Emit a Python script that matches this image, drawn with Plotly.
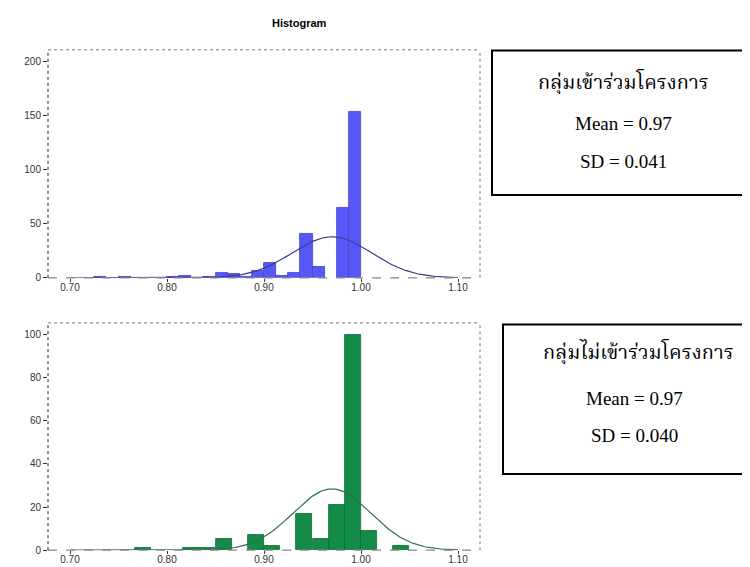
import plotly.graph_objects as go
import math

# ---------------- data ----------------
top_bin_width = 0.0125
top_bin_starts = [0.725, 0.75, 0.80, 0.8125, 0.8375, 0.85, 0.8625, 0.875, 0.8875,
                  0.90, 0.9125, 0.925, 0.9375, 0.95, 0.975, 0.9875]
top_counts = [1, 1, 1, 2, 1, 5, 4, 1, 6, 14, 2, 5, 41, 10, 65, 153]
top_mean, top_sd = 0.97, 0.041
top_label = "กลุ่มเข้าร่วมโครงการ"

bot_bin_width = 1 / 60
bot_bin_starts = [0.7667, 0.8167, 0.8333, 0.85, 0.8833, 0.90, 0.9333, 0.95,
                  0.9667, 0.9833, 1.0, 1.0333]
bot_counts = [1, 1, 1, 5, 7, 2, 17, 5, 21, 100, 9, 2]
bot_mean, bot_sd = 0.97, 0.040
bot_label = "กลุ่มไม่เข้าร่วมโครงการ"

x_ticks = [0.70, 0.80, 0.90, 1.00, 1.10]
top_y_ticks = [0, 50, 100, 150, 200]
bot_y_ticks = [0, 20, 40, 60, 80, 100]

W, H = 750, 567


def px(x):
    return x / W


def py(y):
    return 1 - y / H


def normal_curve(mean, sd, n, width, lo=0.70, hi=1.10, steps=200):
    xs, ys = [], []
    for i in range(steps + 1):
        x = lo + (hi - lo) * i / steps
        xs.append(x)
        ys.append(n * width / (sd * math.sqrt(2 * math.pi)) *
                  math.exp(-0.5 * ((x - mean) / sd) ** 2))
    return xs, ys


fig = go.Figure()

# top histogram
fig.add_trace(go.Bar(
    x=[s + top_bin_width / 2 for s in top_bin_starts], y=top_counts,
    width=[top_bin_width] * len(top_counts),
    marker=dict(color="#5858f8", line=dict(color="#4343c8", width=0.8)),
    xaxis="x", yaxis="y", showlegend=False))
cx, cy = normal_curve(top_mean, top_sd, sum(top_counts), top_bin_width)
fig.add_trace(go.Scatter(x=cx, y=cy, mode="lines",
                         line=dict(color="#3a3a8c", width=1.2),
                         xaxis="x", yaxis="y", showlegend=False))

# bottom histogram
fig.add_trace(go.Bar(
    x=[s + bot_bin_width / 2 for s in bot_bin_starts], y=bot_counts,
    width=[bot_bin_width] * len(bot_counts),
    marker=dict(color="#128c46", line=dict(color="#0d6a35", width=0.8)),
    xaxis="x2", yaxis="y2", showlegend=False))
cx2, cy2 = normal_curve(bot_mean, bot_sd, sum(bot_counts), bot_bin_width)
fig.add_trace(go.Scatter(x=cx2, y=cy2, mode="lines",
                         line=dict(color="#2f6e4f", width=1.2),
                         xaxis="x2", yaxis="y2", showlegend=False))

x_range = [0.7 + (40 - 62) / 970, 0.7 + (472 - 62) / 970]
x_dom = [px(40), px(472)]
tickfont = dict(family="Arial, Liberation Sans, sans-serif", size=10, color="#333333")

common_x = dict(range=x_range, domain=x_dom, tickvals=x_ticks,
                ticktext=[f"{v:.2f}" for v in x_ticks], ticks="outside",
                ticklen=3, tickcolor="#333333", tickfont=tickfont,
                ticklabelstandoff=-3,
                showgrid=False, zeroline=False, showline=False, fixedrange=True)
common_y = dict(ticks="outside", ticklen=4, tickcolor="#333333", tickfont=tickfont,
                showgrid=False, zeroline=False, showline=False, fixedrange=True)

fig.update_layout(
    width=W, height=H,
    margin=dict(l=0, r=0, t=0, b=0),
    paper_bgcolor="white", plot_bgcolor="white",
    bargap=0,
    xaxis=dict(anchor="y", **common_x),
    yaxis=dict(anchor="x", domain=[py(272.7), py(42.3)], range=[0, 210.7],
               tickvals=top_y_ticks, **common_y),
    xaxis2=dict(anchor="y2", **common_x),
    yaxis2=dict(anchor="x2", domain=[py(548), py(318.3)], range=[0, 105.4],
                tickvals=bot_y_ticks, **common_y),
)

shapes = []
for xa, ya in (("x", "y"), ("x2", "y2")):
    xr, yr = f"{xa} domain", f"{ya} domain"
    # top and right dotted frame
    shapes.append(dict(type="line", xref=xr, yref=yr, x0=0, x1=1, y0=1, y1=1,
                       line=dict(color="#777777", width=1, dash="dot")))
    shapes.append(dict(type="line", xref=xr, yref=yr, x0=1, x1=1, y0=0, y1=1,
                       line=dict(color="#777777", width=1, dash="dot")))
    # bottom axis (gray dashed)
    shapes.append(dict(type="line", xref=xr, yref=yr, x0=0, x1=1, y0=0, y1=0,
                       line=dict(color="#888888", width=1.2, dash="dash"), layer="above"))
    # left axis (dark dotted)
    shapes.append(dict(type="line", xref=xr, yref=yr, x0=0, x1=0, y0=0, y1=1,
                       line=dict(color="#222222", width=1, dash="dot")))

# text boxes
shapes.append(dict(type="rect", xref="paper", yref="paper",
                   x0=px(484), x1=px(746), y0=py(189), y1=py(43),
                   line=dict(color="black", width=2)))
shapes.append(dict(type="rect", xref="paper", yref="paper",
                   x0=px(495), x1=px(760), y0=py(471), y1=py(320),
                   line=dict(color="black", width=2)))

thai_font = dict(family="Noto Serif Thai, Noto Sans Thai, Tahoma, Liberation Serif, serif",
                 size=20, color="black")
serif_font = dict(family="Liberation Serif, Times New Roman, serif", size=19, color="black")

annotations = [
    dict(text="<b>Histogram</b>", xref="paper", yref="paper", x=px(262), y=py(15),
         xanchor="left", yanchor="middle", showarrow=False,
         font=dict(family="Arial, Liberation Sans, sans-serif", size=11, color="black")),
    dict(text=top_label, xref="paper", yref="paper", x=px(615), y=py(77),
         xanchor="center", yanchor="middle", showarrow=False, font=thai_font),
    dict(text=f"Mean = {top_mean:.2f}", xref="paper", yref="paper", x=px(615), y=py(117),
         xanchor="center", yanchor="middle", showarrow=False, font=serif_font),
    dict(text=f"SD = {top_sd:.3f}", xref="paper", yref="paper", x=px(615), y=py(155),
         xanchor="center", yanchor="middle", showarrow=False, font=serif_font),
    dict(text=bot_label, xref="paper", yref="paper", x=px(630), y=py(350),
         xanchor="center", yanchor="middle", showarrow=False, font=thai_font),
    dict(text=f"Mean = {bot_mean:.2f}", xref="paper", yref="paper", x=px(626), y=py(395),
         xanchor="center", yanchor="middle", showarrow=False, font=serif_font),
    dict(text=f"SD = {bot_sd:.3f}", xref="paper", yref="paper", x=px(626), y=py(432),
         xanchor="center", yanchor="middle", showarrow=False, font=serif_font),
]

fig.update_layout(shapes=shapes, annotations=annotations)
fig.write_html("out.html")
